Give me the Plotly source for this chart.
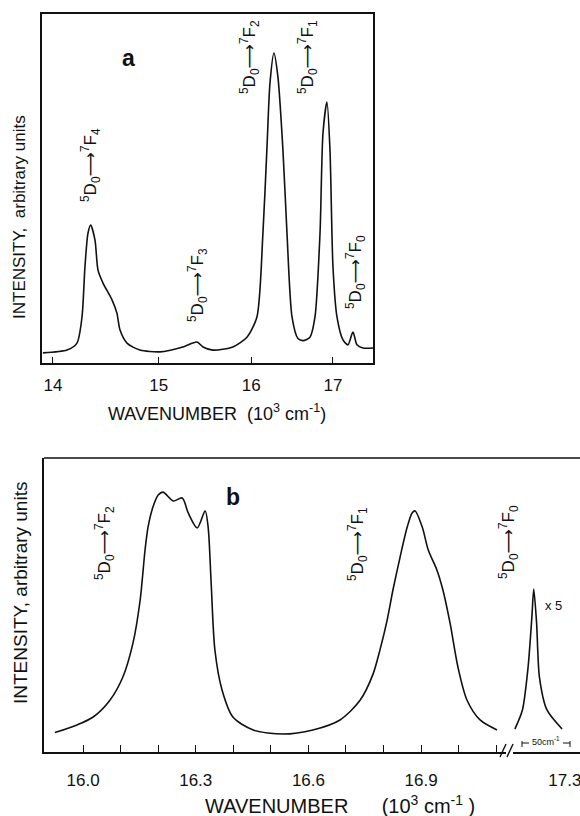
import plotly.graph_objects as go

W, H = 580, 816

# ---------------- Panel a data (wavenumber in 10^3 cm^-1, intensity arb.) -------------
a_wavenumber = [13.912, 14.125, 14.215, 14.261, 14.288, 14.316, 14.341, 14.381, 14.409,
                14.456, 14.541, 14.588, 14.617, 14.685, 14.812, 15.012, 15.249, 15.397,
                15.462, 15.570, 15.791, 15.950, 16.065, 16.135, 16.183, 16.218, 16.265,
                16.313, 16.373, 16.422, 16.483, 16.556, 16.620, 16.706, 16.769, 16.833,
                16.871, 16.922, 16.961, 17.000, 17.052, 17.131, 17.197, 17.264, 17.318,
                17.400, 17.537]
a_intensity = [2.9, 3.7, 5.7, 13.2, 27.5, 37.2, 39.5, 35.2, 26.6,
               22.9, 18.1, 14.3, 9.5, 5.7, 3.7, 3.2, 4.6, 6.0,
               4.6, 3.7, 4.6, 7.4, 13.2, 37.2, 62.0, 80.2, 88.8,
               81.9, 61.0, 37.2, 13.2, 7.0, 6.4, 7.4, 13.2, 37.2,
               65.9, 74.8, 61.0, 27.5, 13.2, 6.6, 5.2, 8.9, 5.2,
               4.3, 4.3]
a_tick_values = [14, 15, 16, 17]
a_tick_labels = ["14", "15", "16", "17"]

# ---------------- Panel b data -------------
b_wavenumber = [15.925, 15.984, 16.027, 16.072, 16.106, 16.133, 16.152, 16.165, 16.173,
                16.186, 16.200, 16.213, 16.240, 16.264, 16.280, 16.304, 16.325, 16.333,
                16.341, 16.351, 16.370, 16.399, 16.453, 16.532, 16.612, 16.684, 16.737,
                16.772, 16.791, 16.809, 16.825, 16.844, 16.863, 16.876, 16.884, 16.903,
                16.919, 16.942, 16.958, 16.977, 16.998, 17.022, 17.057, 17.102]
b_intensity = [6.6, 9.2, 11.9, 17.7, 25.5, 37.1, 51.7, 68.7, 76.5,
               83.3, 87.4, 88.4, 85.4, 86.4, 81.3, 76.2, 82.0, 76.5,
               57.5, 34.7, 21.1, 11.9, 7.5, 6.1, 7.5, 10.9, 17.5,
               26.5, 35.0, 44.5, 55.1, 66.3, 76.5, 81.3, 82.0, 76.5,
               68.7, 61.9, 55.1, 43.9, 28.9, 17.7, 10.9, 7.5]
b_inset_wavenumber = [17.247, 17.255, 17.261, 17.265, 17.267, 17.270, 17.273, 17.281, 17.297]
b_inset_intensity = [7.8, 14.3, 28.9, 45.9, 55.4, 43.9, 25.5, 14.3, 7.8]
b_tick_values = [16.0, 16.1, 16.2, 16.3, 16.4, 16.5, 16.6, 16.7, 16.8, 16.9, 17.0, 17.1]
b_tick_labels = ["16.0", "", "", "16.3", "", "", "16.6", "", "", "16.9", "", ""]
b_inset_tick_values = [17.3]
b_inset_tick_labels = ["17.3"]


def to_wavelength(wn):
    # panel a is drawn linear in wavelength (nm), labelled in wavenumber
    return [1e4 / v for v in wn]


def px(x):
    return x / W


def py(y):
    return 1 - y / H


FONT = "Liberation Sans"
BLACK = "#111111"

fig = go.Figure()

fig.add_trace(go.Scatter(x=to_wavelength(a_wavenumber), y=a_intensity, mode="lines",
                         line=dict(color=BLACK, width=1.6, shape="spline", smoothing=0.7),
                         xaxis="x", yaxis="y", showlegend=False, hoverinfo="skip"))
fig.add_trace(go.Scatter(x=b_wavenumber, y=b_intensity, mode="lines",
                         line=dict(color=BLACK, width=1.6, shape="spline", smoothing=0.8),
                         xaxis="x2", yaxis="y2", showlegend=False, hoverinfo="skip"))
fig.add_trace(go.Scatter(x=b_inset_wavenumber, y=b_inset_intensity, mode="lines",
                         line=dict(color=BLACK, width=1.6, shape="spline", smoothing=0.7),
                         xaxis="x3", yaxis="y2", showlegend=False, hoverinfo="skip"))

axis_common = dict(showgrid=False, zeroline=False, linecolor=BLACK, linewidth=1.6,
                   tickcolor=BLACK, tickfont=dict(family=FONT, size=17, color=BLACK))

fig.update_layout(
    width=W, height=H, margin=dict(l=0, r=0, t=0, b=0),
    paper_bgcolor="white", plot_bgcolor="white",
    xaxis=dict(domain=[px(42), px(373)], anchor="y",
               range=[1e4 / 13.904, 1e4 / 17.537],
               tickvals=to_wavelength(a_tick_values), ticktext=a_tick_labels,
               ticks="inside", ticklen=6, tickwidth=1.4, showline=True, mirror=True,
               ticklabelstandoff=6, **axis_common),
    yaxis=dict(domain=[py(363), py(14)], anchor="x", range=[0, 100],
               showticklabels=False, ticks="", showline=True, mirror=True, **axis_common),
    xaxis2=dict(domain=[px(44), px(506)], anchor="y2",
                range=[15.896, 17.126],
                tickvals=b_tick_values, ticktext=b_tick_labels,
                ticks="inside", ticklen=7, tickwidth=1.4, showline=True, mirror=False,
                ticklabelstandoff=12, **axis_common),
    xaxis3=dict(domain=[px(513), 1.0], anchor="y2",
                range=[17.245, 17.316],
                tickvals=b_inset_tick_values, ticktext=b_inset_tick_labels,
                ticks="", showline=True, mirror=False, ticklabelstandoff=12,
                ticklabeloverflow="allow", **axis_common),
    yaxis2=dict(domain=[py(752), py(458)], anchor="x2", range=[0, 100],
                showticklabels=False, ticks="", showline=True, mirror=False, **axis_common),
)

# top border of panel b (continues to the page edge)
fig.add_shape(type="line", xref="paper", yref="paper", x0=px(44), x1=1.0,
              y0=py(458), y1=py(458), line=dict(color=BLACK, width=1.6))
# axis break marks
for x0 in (500, 507):
    fig.add_shape(type="line", xref="paper", yref="paper", x0=px(x0), x1=px(x0 + 6),
                  y0=py(757), y1=py(744), line=dict(color=BLACK, width=1.4))
# 50 cm-1 scale bracket
for xa, xb in ((522, 529), (563, 570)):
    fig.add_shape(type="line", xref="paper", yref="paper", x0=px(xa), x1=px(xb),
                  y0=py(743), y1=py(743), line=dict(color=BLACK, width=1))
for xv in (522, 570):
    fig.add_shape(type="line", xref="paper", yref="paper", x0=px(xv), x1=px(xv),
                  y0=py(741), y1=py(747), line=dict(color=BLACK, width=1))


def ann(text, x, y, size=14, angle=0, bold=False):
    fig.add_annotation(text=f"<b>{text}</b>" if bold else text, x=px(x), y=py(y),
                       xref="paper", yref="paper", showarrow=False, textangle=angle,
                       xanchor="center", yanchor="middle",
                       font=dict(family=FONT, size=size, color=BLACK))


def trans(f):
    return ("<sup>5</sup>D<sub>0</sub>"
            "<span style='font-family:DejaVu Sans;color:#111111'>\u27f6</span>"
            f"<sup>7</sup>F<sub>{f}</sub>")


# panel a labels
ann("a", 128, 58, size=23, bold=True)
ann(trans(4), 91, 165, size=17, angle=-90)
ann(trans(3), 197, 285, size=17, angle=-90)
ann(trans(2), 250, 57, size=17, angle=-90)
ann(trans(1), 308, 57, size=17, angle=-90)
ann(trans(0), 356, 272, size=17, angle=-90)
ann("WAVENUMBER  (10<sup>3</sup> cm<sup>-1</sup>)", 217, 412, size=18)
ann("INTENSITY,  arbitrary units", 20, 217, size=17, angle=-90)

# panel b labels
ann("b", 233, 497, size=23, bold=True)
ann(trans(2), 104, 543, size=17, angle=-90)
ann(trans(1), 357, 544, size=17, angle=-90)
ann(trans(0), 508, 542, size=17, angle=-90)
ann("x 5", 553, 605, size=13)
ann("50cm<sup>-1</sup>", 546, 741, size=9)
ann("WAVENUMBER      (10<sup>3</sup> cm<sup>-1</sup> )", 340, 804, size=20)
ann("INTENSITY, arbitrary units", 20, 593, size=19, angle=-90)

fig.write_html("out.html", post_script="document.body.style.margin='0';",
               config={"displayModeBar": False})
